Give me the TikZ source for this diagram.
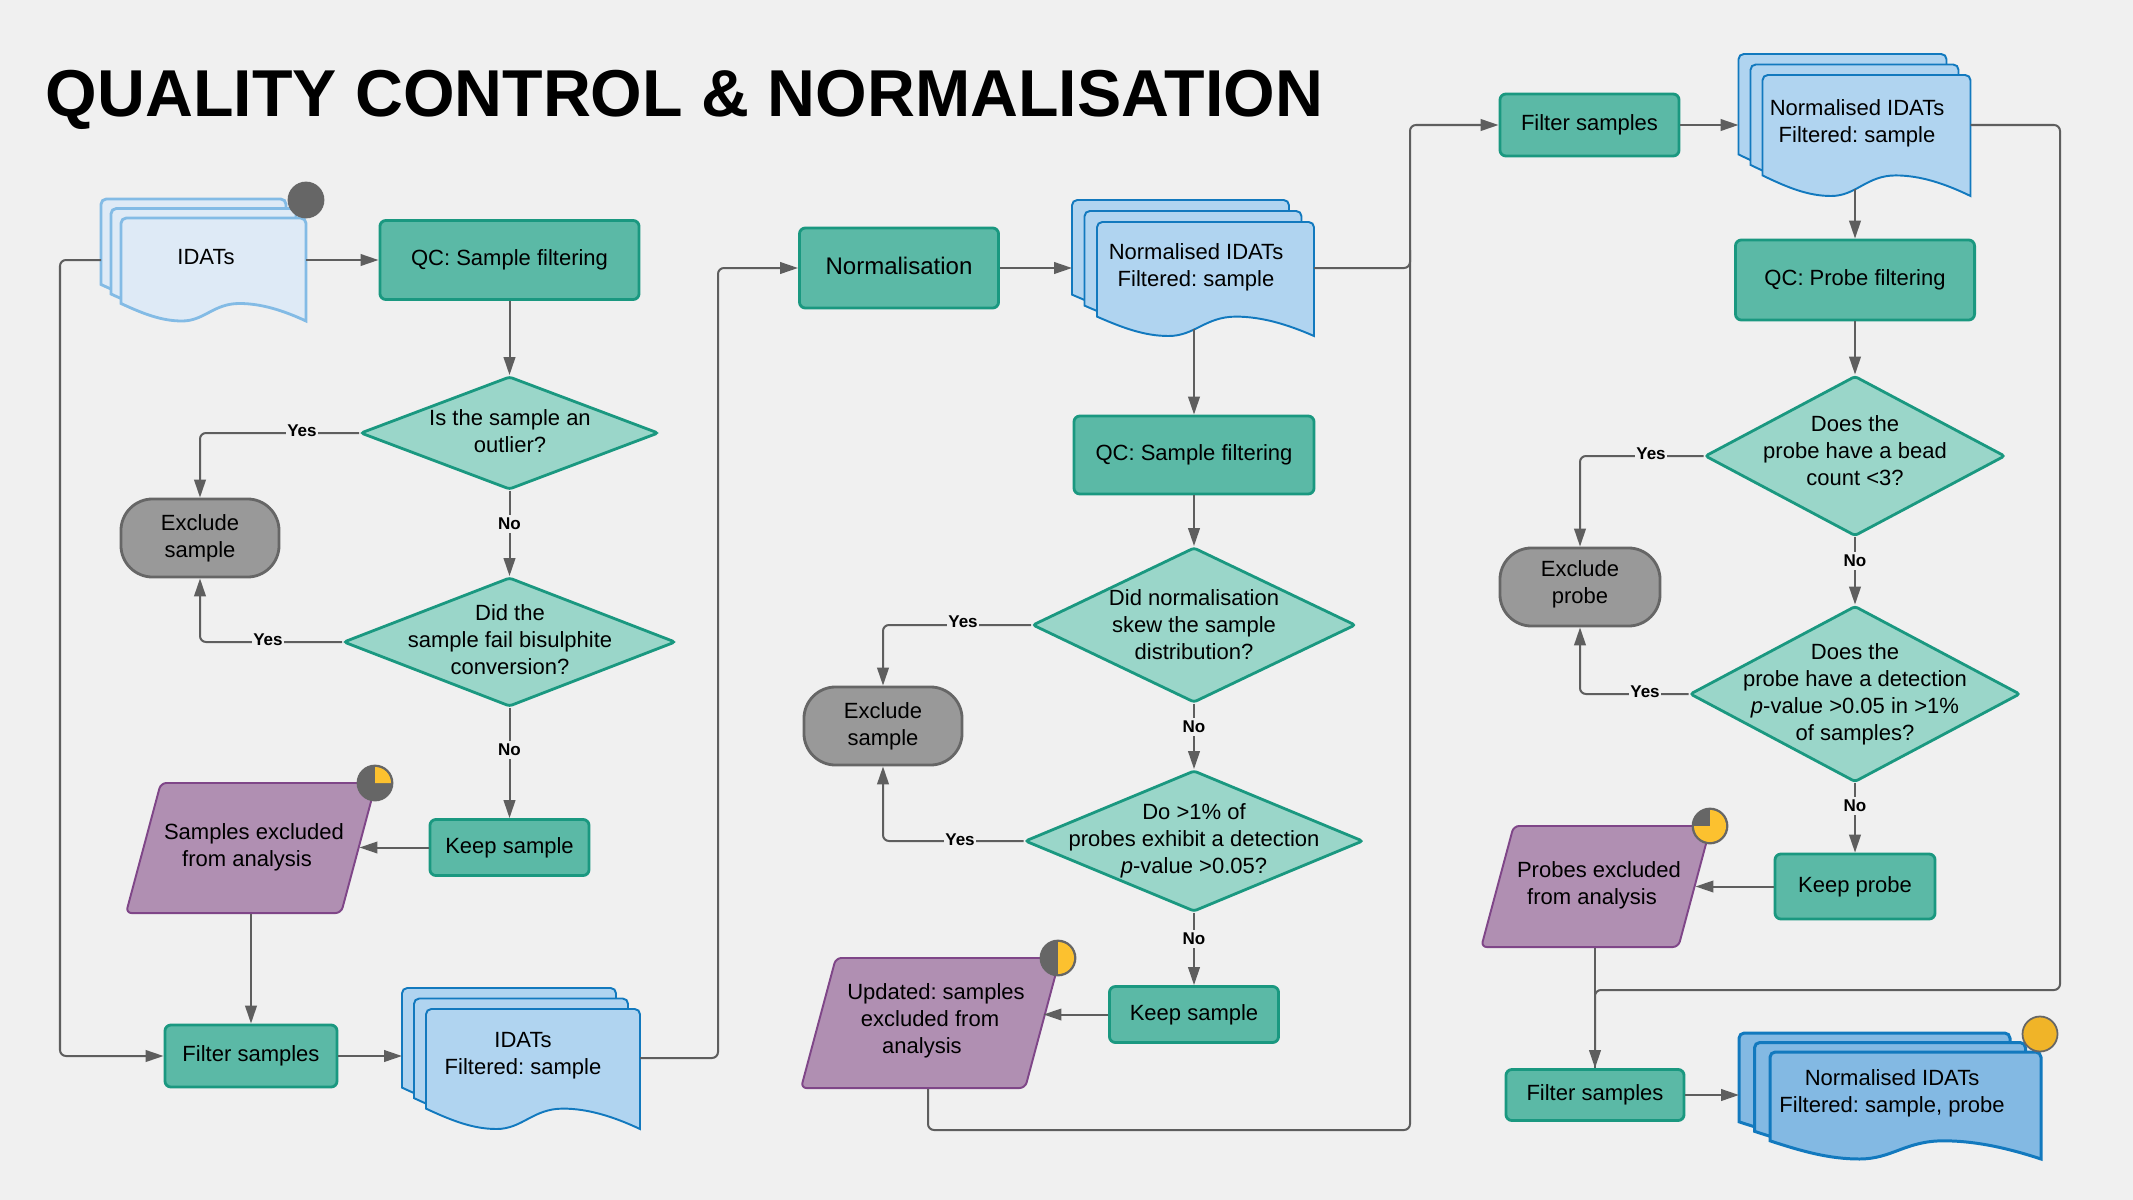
\documentclass[tikz,border=0pt]{standalone}
\usepackage{fontspec}
\setmainfont{Liberation Sans}
\usetikzlibrary{arrows.meta,shapes.geometric}
\definecolor{pagebg}{HTML}{F0F0F0}
\definecolor{linec}{HTML}{5E5E5E}
\definecolor{tealfill}{HTML}{5BB9A6}
\definecolor{tealline}{HTML}{1A9880}
\definecolor{mintfill}{HTML}{9AD6C9}
\definecolor{plumfill}{HTML}{B08FB2}
\definecolor{plumline}{HTML}{7F4688}
\definecolor{greyfill}{HTML}{999999}
\definecolor{greyline}{HTML}{666666}
\definecolor{paleblue}{HTML}{DEEAF6}
\definecolor{paleline}{HTML}{83BBE5}
\definecolor{midblue}{HTML}{B0D4F0}
\definecolor{deepblue}{HTML}{83B9E3}
\definecolor{blueline}{HTML}{1279BE}
\definecolor{pieyellow}{HTML}{FCC12F}
\definecolor{doneyellow}{HTML}{F0B428}
\tikzset{%
	basefont/.style={font=\frenchspacing\fontsize{6.26}{7.68}\selectfont},%
	procbox/.style={draw=tealline,fill=tealfill,line width=.8pt,rounded corners=1.7pt,basefont,align=center},%
	decision/.style={diamond,draw=tealline,fill=mintfill,line width=.8pt,rounded corners=.8pt,inner sep=0pt},%
	pillbox/.style={draw=greyline,fill=greyfill,line width=.8pt,rounded corners=9pt,basefont,align=center},%
	databox/.style={rectangle,transform shape,xslant=.268,draw=plumline,fill=plumfill,line width=.55pt,rounded corners=1.6pt,inner sep=0pt},%
	flowtext/.style={basefont,align=center,inner sep=0pt},%
	yesno/.style={font=\fontsize{4.84}{5.8}\selectfont\bfseries,fill=pagebg,inner xsep=.5pt,inner ysep=1pt},%
	link/.style={draw=linec,line width=.57pt,rounded corners=1.7pt},%
	docbox/.style={anchor=north west,inner sep=0pt,outer sep=0pt},%
	paledoc/.style={draw=paleline,fill=paleblue,line width=.8pt},%
	middoc/.style={draw=blueline,fill=midblue,line width=.55pt},%
	deepdoc/.style={draw=blueline,fill=deepblue,line width=.85pt},%
	iconbase/.style={circle,draw=greyline,line width=.5pt,fill=greyline,minimum size=.35cm,inner sep=0pt}%
}
\newcommand{\sheetpath}[3]{%
	\draw[#3] (0,.83*#2) [rounded corners=1.5pt] -- (0,0) -- (#1,0) [sharp corners] -- (#1,#2)%
		.. controls (.88*#1,.9*#2) and (.76*#1,.83*#2) .. (.64*#1,.83*#2)%
		.. controls (.5*#1,.83*#2) and (.45*#1,#2) .. (.33*#1,#2)%
		.. controls (.22*#1,#2) and (.12*#1,.93*#2) .. (0,.83*#2) -- cycle;%
}
\newcommand{\docstack}[8]{%
	\foreach \k in {2,1,0} {%
		\begin{scope}[shift={({#2-\k*#6},{#3-\k*#7})}]
			\sheetpath{#4}{#5}{#8}
		\end{scope}
	}%
	\node[docbox,minimum width=#4*.01cm,minimum height=.94*#5*.01cm] (#1) at (#2,#3) {};%
	\node[docbox,minimum width=#4*.01cm,minimum height=.83*#5*.01cm] (#1b) at ({#2-2*#6},{#3-2*#7}) {};%
}
\newcommand{\pieicon}[4]{%
	\node[iconbase] (#1) at (#2,#3) {};%
	\fill[pieyellow] (#1.center) -- ++(0pt,.16cm) arc[start angle=90,end angle=#4,radius=.16cm] -- cycle;%
}
\begin{document}
\begin{tikzpicture}[x=.01cm,y=-.01cm,>={Triangle[length=5.1pt,width=3.3pt]}]
	\useasboundingbox (0,0) rectangle (2133,1200);
	\fill[pagebg] (0,0) rectangle (2133,1200);
	\node[anchor=base west,inner sep=0pt,font=\fontsize{18.86}{22}\selectfont\bfseries] (title) at (45,116) {QUALITY CONTROL \& NORMALISATION};
	% first column
	\docstack{idatsA}{121}{218}{185}{103}{10}{9.5}{paledoc}
	\node[flowtext] (idatsAt) at (206,257) {IDATs};
	\node[iconbase] (iconA) at (306,200) {};
	\node[procbox,minimum width=2.59cm,minimum height=.79cm] (qcA) at (509.5,260) {QC: Sample filtering};
	\node[decision,minimum width=2.98cm,minimum height=1.13cm] (diaA) at (509.5,433) {};
	\node[flowtext] (diaAt) at (510,431) {Is the sample an\\outlier?};
	\node[pillbox,minimum width=1.58cm,minimum height=.78cm] (exclA) at (200,538) {Exclude\\sample};
	\node[decision,minimum width=3.32cm,minimum height=1.29cm] (diaB) at (509.5,642) {};
	\node[flowtext] (diaBt) at (510,640) {Did the\\sample fail bisulphite\\conversion?};
	\node[procbox,minimum width=1.59cm,minimum height=.56cm] (keepA) at (509.5,847.5) {Keep sample};
	\node[databox,minimum width=2.15cm,minimum height=1.3cm] (lostA) at (251,848) {};
	\node[flowtext] (lostAt) at (251,847) {\hspace*{.06cm}Samples excluded\\from analysis\hspace*{.08cm}};
	\pieicon{iconB}{375}{783}{0}
	\node[procbox,minimum width=1.72cm,minimum height=.62cm] (filA) at (251,1056) {Filter samples};
	\docstack{idatsB}{426}{1009}{214}{120}{12}{10.5}{middoc}
	\node[flowtext] (idatsBt) at (523,1056) {IDATs\\Filtered: sample};
	\draw[link,->] (idatsA.east |- qcA.west) -- (qcA.west);
	\coordinate (busA) at (60,260);
	\draw[link,->] (idatsAb.west |- busA) -- (busA) |- (filA.west);
	\draw[link,->] (qcA.south) -- (diaA.north);
	\draw[link,->] (diaA.west) -| (exclA.north);
	\draw[link,->] (diaA.south) -- (diaB.north);
	\draw[link,->] (diaB.west) -| (exclA.south);
	\draw[link,->] (diaB.south) -- (keepA.north);
	\draw[link,->] (keepA.west) -- (keepA.west -| lostA.east);
	\draw[link,->] (filA.north |- lostA.south) -- (filA.north);
	\draw[link,->] (filA.east) -- (idatsBb.west |- filA.east);
	\node[yesno] (yesA) at (302,431) {Yes};
	\node[yesno] (noA) at (509.5,524) {No};
	\node[yesno] (yesB) at (268,640) {Yes};
	\node[yesno] (noB) at (509.5,750) {No};
	% second column
	\node[procbox,minimum width=1.99cm,minimum height=.8cm,font=\fontsize{6.83}{8.2}\selectfont,text depth=1.5pt] (norm) at (899,268) {Normalisation};
	\docstack{normA}{1097}{222}{217}{114}{12.5}{11}{middoc}
	\node[flowtext] (normAt) at (1196,267) {Normalised IDATs\\Filtered: sample};
	\node[procbox,minimum width=2.4cm,minimum height=.78cm] (qcB) at (1194,455) {QC: Sample filtering};
	\node[decision,minimum width=3.23cm,minimum height=1.55cm] (diaC) at (1194,625) {};
	\node[flowtext] (diaCt) at (1194,625) {Did normalisation\\skew the sample\\distribution?};
	\node[pillbox,minimum width=1.58cm,minimum height=.78cm] (exclB) at (883,726) {Exclude\\sample};
	\node[decision,minimum width=3.38cm,minimum height=1.41cm] (diaD) at (1194,841) {};
	\node[flowtext] (diaDt) at (1194,841) {Do >1\% of\\probes exhibit a detection\\\textit{p}-value >0.05?};
	\node[procbox,minimum width=1.69cm,minimum height=.56cm] (keepB) at (1194,1014.5) {Keep sample};
	\node[databox,minimum width=2.24cm,minimum height=1.3cm] (lostB) at (930.5,1023) {};
	\node[flowtext] (lostBt) at (930,1021) {\hspace*{.12cm}Updated: samples\\excluded from\\analysis\hspace*{.16cm}};
	\pieicon{iconC}{1058}{958}{-90}
	\coordinate (busB) at (718,1058);
	\draw[link,->] (idatsB.east |- busB) -- (busB) |- (norm.west);
	\draw[link,->] (norm.east) -- (normAb.west |- norm.east);
	\draw[link,->] (qcB.north |- normA.south) -- (qcB.north);
	\draw[link,->] (qcB.south) -- (diaC.north);
	\draw[link,->] (diaC.west) -| (exclB.north);
	\draw[link,->] (diaC.south) -- (diaD.north);
	\draw[link,->] (diaD.west) -| (exclB.south);
	\draw[link,->] (diaD.south) -- (keepB.north);
	\draw[link,->] (keepB.west) -- (keepB.west -| lostB.east);
	\node[yesno] (yesC) at (963,622) {Yes};
	\node[yesno] (noC) at (1194,727) {No};
	\node[yesno] (yesD) at (960,840) {Yes};
	\node[yesno] (noD) at (1194,939) {No};
	% third column
	\node[procbox,minimum width=1.79cm,minimum height=.62cm] (filB) at (1589.5,125) {Filter samples};
	\docstack{normB}{1762.5}{75}{208}{121}{12}{10.5}{middoc}
	\node[flowtext] (normBt) at (1857,123) {Normalised IDATs\\Filtered: sample};
	\node[procbox,minimum width=2.39cm,minimum height=.8cm] (qcC) at (1855,280) {QC: Probe filtering};
	\node[decision,minimum width=3cm,minimum height=1.6cm] (diaE) at (1855,456) {};
	\node[flowtext] (diaEt) at (1855,451) {Does the\\probe have a bead\\count <3?};
	\node[pillbox,minimum width=1.6cm,minimum height=.78cm,text depth=2.9pt] (exclC) at (1580,587) {Exclude\\probe};
	\node[decision,minimum width=3.3cm,minimum height=1.76cm] (diaF) at (1855,694) {};
	\node[flowtext] (diaFt) at (1855,694) {Does the\\probe have a detection\\\textit{p}-value >0.05 in >1\%\\of samples?};
	\node[procbox,minimum width=1.6cm,minimum height=.65cm] (keepC) at (1855,886.5) {Keep probe};
	\node[databox,minimum width=1.97cm,minimum height=1.21cm] (lostC) at (1596,886.5) {};
	\node[flowtext] (lostCt) at (1595,885) {\hspace*{.08cm}Probes excluded\\from analysis\hspace*{.06cm}};
	\pieicon{iconD}{1710}{826}{-180}
	\node[procbox,minimum width=1.78cm,minimum height=.51cm] (filC) at (1595,1095) {Filter samples};
	\docstack{normC}{1770}{1052}{271}{107}{15.5}{9.5}{deepdoc}
	\node[flowtext] (normCt) at (1892,1093) {Normalised IDATs\\Filtered: sample, probe};
	\node[iconbase,fill=doneyellow] (iconE) at (2040,1034) {};
	\coordinate (busC) at (1410,268);
	\coordinate (busD) at (1410,1130);
	\coordinate (busE) at (2060,125);
	\coordinate (busF) at (2060,990);
	\coordinate (busG) at (928,1130);
	\coordinate (busH) at (1410,250);
	\draw[link,->] (normA.east |- busC) -- (busC) |- (filB.west);
	\draw[link] (busG |- lostB.south) -- (busG) -- (busD) -- (busH);
	\draw[link,->] (filB.east) -- (normBb.west |- filB.east);
	\draw[link,->] (normB.east |- busE) -- (busE) -- (busF) -- (filC.north |- busF) -- (filC.north);
	\draw[link,->] (qcC.north |- normB.south) -- (qcC.north);
	\draw[link,->] (qcC.south) -- (diaE.north);
	\draw[link,->] (diaE.west) -| (exclC.north);
	\draw[link,->] (diaE.south) -- (diaF.north);
	\draw[link,->] (diaF.west) -| (exclC.south);
	\draw[link,->] (diaF.south) -- (keepC.north);
	\draw[link,->] (keepC.west) -- (keepC.west -| lostC.east);
	\draw[link] (filC.north |- lostC.south) -- (filC.north);
	\draw[link,->] (filC.east) -- (normCb.west |- filC.east);
	\node[yesno] (yesE) at (1651,454) {Yes};
	\node[yesno] (noE) at (1855,561) {No};
	\node[yesno] (yesF) at (1645,692) {Yes};
	\node[yesno] (noF) at (1855,806) {No};
\end{tikzpicture}
\end{document}
